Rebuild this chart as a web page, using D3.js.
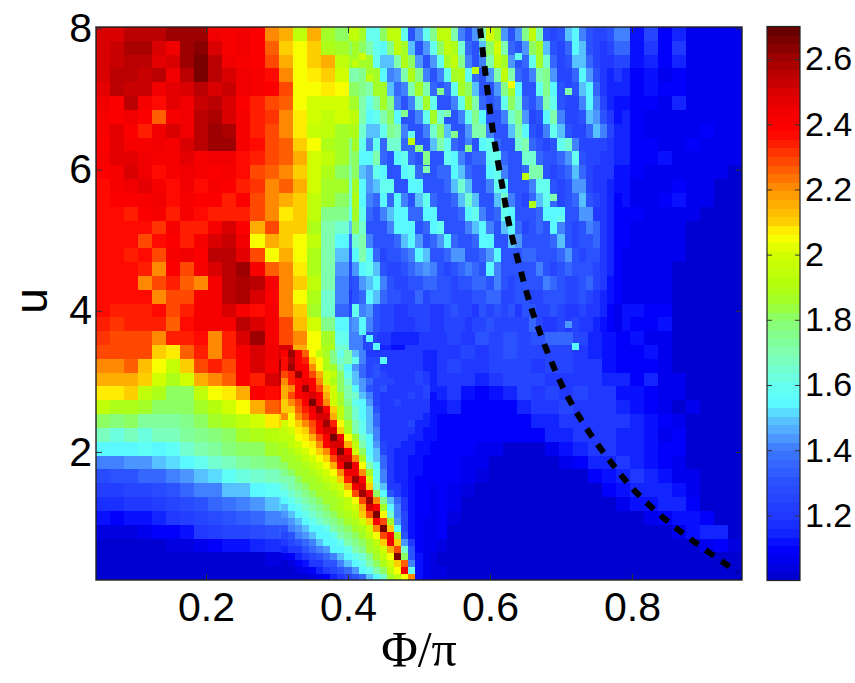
<!DOCTYPE html>
<html><head><meta charset="utf-8">
<script src="https://cdn.jsdelivr.net/npm/d3@7"></script>
<style>html,body{margin:0;padding:0;background:#fff}svg{display:block}</style>
</head><body><div id="chart"></div>
<script>
const phiValues=d3.range(46).map(i=>+(0.05+0.02*i).toFixed(2));
const xTicks=[0.2,0.4,0.6,0.8];
const yTicks=[2,4,6,8];
const barTicks=[1.2,1.4,1.6,1.8,2,2.2,2.4,2.6];
const colorValues=[1,1.05,1.1,1.15,1.2,1.3,1.4,1.45,1.5,1.55,1.6,1.7,1.8,1.85,1.9,2,2.06,2.1,2.2,2.3,2.38,2.45,2.5,2.6,2.7];
const colorStops=["#0000c8","#0000e6","#0000ff","#1428ff","#2038ff","#2a50ff","#3c78ff","#50a0ff","#58c8ff","#5affff","#66ffee","#80ffb0","#88ff70","#a0ff30","#b0ff10","#d0ff00","#ffff00","#ffd000","#ff9000","#ff4000","#ff0000","#f00000","#d80000","#a00000","#600000"];
// u, from the top row down
const uValues=d3.range(40).map(i=>+(7.92-0.1958*i).toFixed(2));
const cells=[
[2.5,2.5,2.55,2.55,2.55,2.62,2.62,2.62,2.45,2.42, 2.45,2.4,2.2,2.15,1.95,2.15,1.85,1.8,1.95,1.58, 1.8,1.95,1.5,1.55,1.95,1.65,1.35,1.55,1.9,1.3, 1.5,1.85,1.3,1.4,1.55,1.3,1.25,1.4,1.12,1.25, 1.1,1.15,1.07,1.07,1.07,1.07],
[2.5,2.52,2.58,2.58,2.5,2.45,2.6,2.64,2.5,2.42, 2.45,2.4,2.25,2.1,2.05,2.1,1.9,1.85,1.8,1.7, 1.6,1.9,1.55,1.4,1.6,1.9,1.5,1.35,2.0,1.5, 1.3,1.85,1.35,1.3,1.6,1.35,1.2,1.35,1.12,1.2, 1.1,1.2,1.07,1.07,1.07,1.07],
[2.5,2.52,2.56,2.55,2.48,2.5,2.62,2.65,2.55,2.45, 2.42,2.4,2.3,2.15,2.05,2.1,2.15,1.95,1.85,1.85, 1.55,1.65,1.9,1.45,1.5,1.85,1.6,1.3,1.95,1.6, 1.35,1.8,1.4,1.3,1.6,1.4,1.2,1.25,1.12,1.15, 1.1,1.15,1.07,1.07,1.07,1.07],
[2.5,2.55,2.55,2.52,2.55,2.45,2.55,2.65,2.55,2.5, 2.45,2.42,2.38,2.2,2.05,2.08,2.1,2.0,1.7,1.85, 1.5,1.4,1.85,1.5,1.3,1.85,1.65,1.3,1.55,1.95, 1.3,1.6,1.6,1.25,1.55,1.4,1.15,1.15,1.1,1.12, 1.07,1.1,1.07,1.07,1.07,1.07],
[2.48,2.55,2.52,2.52,2.45,2.48,2.5,2.55,2.5,2.52, 2.45,2.42,2.4,2.3,2.05,2.05,2.08,2.05,1.8,1.75, 1.85,1.35,1.6,1.8,1.35,1.6,1.85,1.35,1.35,1.85, 1.5,1.3,1.75,1.35,1.3,1.55,1.15,1.15,1.1,1.12, 1.1,1.1,1.07,1.07,1.07,1.07],
[2.45,2.4,2.55,2.42,2.38,2.48,2.45,2.52,2.55,2.5, 2.4,2.35,2.3,2.25,2.05,2.0,2.0,2.0,1.85,1.65, 1.8,1.6,1.35,1.85,1.5,1.35,1.8,1.45,1.3,1.75, 1.6,1.3,1.7,1.3,1.25,1.55,1.2,1.12,1.1,1.1, 1.07,1.15,1.07,1.07,1.07,1.07],
[2.42,2.4,2.45,2.4,2.25,2.42,2.45,2.55,2.58,2.5, 2.42,2.35,2.32,2.2,2.08,2.0,1.95,2.0,1.95,1.6, 1.75,1.7,1.3,1.5,1.85,1.3,1.55,1.7,1.3,1.6, 1.7,1.25,1.7,1.3,1.3,1.5,1.3,1.15,1.1,1.07, 1.07,1.07,1.07,1.07,1.07,1.07],
[2.42,2.48,2.4,2.35,2.45,2.5,2.45,2.55,2.6,2.58, 2.42,2.35,2.3,2.2,2.08,1.98,1.95,1.85,1.9,1.55, 1.5,1.75,1.5,1.3,1.8,1.45,1.4,1.75,1.3,1.4, 1.7,1.25,1.5,1.6,1.25,1.5,1.3,1.15,1.1,1.07, 1.07,1.07,1.07,1.1,1.07,1.07],
[2.4,2.48,2.42,2.42,2.45,2.42,2.5,2.55,2.6,2.6, 2.42,2.38,2.3,2.25,2.1,2.05,1.9,1.85,1.75,1.65, 1.45,1.6,1.6,1.3,1.6,1.65,1.3,1.65,1.6,1.3, 1.7,1.3,1.3,1.65,1.3,1.3,1.45,1.15,1.1,1.1, 1.07,1.07,1.1,1.07,1.07,1.07],
[2.42,2.48,2.48,2.45,2.42,2.42,2.48,2.42,2.45,2.45, 2.38,2.35,2.28,2.25,2.15,2.0,1.95,1.85,1.75,1.6, 1.4,1.4,1.7,1.35,1.4,1.7,1.3,1.4,1.65,1.25, 1.55,1.5,1.3,1.55,1.4,1.25,1.4,1.15,1.1,1.1, 1.12,1.07,1.07,1.07,1.07,1.07],
[2.4,2.42,2.5,2.45,2.38,2.42,2.45,2.42,2.4,2.42, 2.38,2.3,2.25,2.2,2.1,2.0,1.9,1.8,1.7,1.55, 1.4,1.3,1.6,1.5,1.3,1.6,1.45,1.3,1.65,1.3, 1.45,1.7,1.25,1.5,1.45,1.25,1.25,1.12,1.1,1.07, 1.07,1.07,1.07,1.07,1.07,1.02],
[2.38,2.42,2.45,2.48,2.42,2.38,2.45,2.38,2.42,2.4, 2.35,2.32,2.2,2.25,2.15,2.0,1.85,1.85,1.65,1.55, 1.3,1.3,1.4,1.6,1.3,1.4,1.65,1.3,1.45,1.55, 1.25,1.65,1.5,1.25,1.55,1.2,1.15,1.12,1.07,1.07, 1.07,1.1,1.07,1.07,1.02,1.02],
[2.38,2.4,2.4,2.42,2.45,2.38,2.42,2.4,2.4,2.35, 2.4,2.3,2.2,2.15,2.1,1.95,1.85,1.8,1.65,1.45, 1.3,1.25,1.3,1.6,1.4,1.3,1.55,1.3,1.3,1.55, 1.25,1.5,1.5,1.2,1.5,1.25,1.15,1.12,1.07,1.07, 1.1,1.12,1.07,1.07,1.02,1.02],
[2.38,2.38,2.35,2.4,2.42,2.35,2.42,2.38,2.35,2.35, 2.35,2.28,2.2,2.08,2.1,1.95,1.75,1.75,1.6,1.35, 1.25,1.25,1.25,1.4,1.55,1.3,1.3,1.55,1.3,1.45, 1.4,1.25,1.55,1.2,1.4,1.2,1.12,1.1,1.1,1.07, 1.07,1.07,1.07,1.02,1.02,1.02],
[2.38,2.38,2.38,2.38,2.32,2.42,2.35,2.35,2.42,2.5, 2.4,2.15,2.3,2.1,2.1,1.9,1.7,1.65,1.5,1.3, 1.2,1.25,1.25,1.3,1.55,1.4,1.25,1.4,1.5,1.3, 1.45,1.25,1.45,1.35,1.3,1.35,1.15,1.1,1.07,1.07, 1.07,1.07,1.02,1.02,1.02,1.02],
[2.38,2.38,2.38,2.3,2.38,2.4,2.35,2.42,2.5,2.52, 2.45,2.05,2.15,2.1,2.05,1.95,1.7,1.55,1.35,1.25, 1.2,1.2,1.25,1.25,1.3,1.55,1.25,1.3,1.55,1.3, 1.4,1.3,1.2,1.5,1.25,1.3,1.15,1.1,1.07,1.07, 1.07,1.07,1.02,1.02,1.02,1.02],
[2.38,2.38,2.35,2.38,2.3,2.42,2.45,2.4,2.55,2.55, 2.48,2.3,2.05,2.15,2.05,1.9,1.7,1.5,1.3,1.2, 1.2,1.2,1.2,1.25,1.25,1.3,1.5,1.25,1.35,1.5, 1.3,1.3,1.25,1.35,1.2,1.3,1.15,1.07,1.07,1.07, 1.07,1.07,1.02,1.02,1.02,1.02],
[2.38,2.36,2.36,2.35,2.22,2.4,2.28,2.42,2.5,2.55, 2.6,2.42,2.25,2.2,2.08,1.9,1.7,1.45,1.25,1.2, 1.2,1.2,1.2,1.25,1.2,1.25,1.45,1.3,1.25,1.4, 1.3,1.25,1.25,1.35,1.2,1.2,1.12,1.07,1.07,1.07, 1.07,1.02,1.02,1.02,1.02,1.02],
[2.38,2.36,2.36,2.2,2.3,2.35,2.25,2.22,2.42,2.55, 2.58,2.55,2.42,2.2,2.1,1.95,1.7,1.4,1.25,1.2, 1.15,1.2,1.2,1.2,1.2,1.2,1.3,1.3,1.25,1.3, 1.35,1.25,1.25,1.25,1.25,1.2,1.12,1.07,1.07,1.07, 1.07,1.02,1.02,1.02,1.02,1.02],
[2.36,2.36,2.36,2.38,2.2,2.28,2.3,2.42,2.42,2.55, 2.58,2.5,2.4,2.2,2.05,1.9,1.65,1.4,1.2,1.2, 1.2,1.2,1.2,1.2,1.2,1.2,1.25,1.3,1.3,1.25, 1.3,1.3,1.25,1.3,1.25,1.15,1.12,1.07,1.07,1.07, 1.07,1.02,1.02,1.02,1.02,1.02],
[2.36,2.35,2.34,2.35,2.38,2.28,2.35,2.42,2.42,2.5, 2.42,2.38,2.42,2.2,2.1,1.85,1.65,1.35,1.25,1.2, 1.15,1.2,1.2,1.2,1.2,1.2,1.2,1.25,1.3,1.3, 1.25,1.25,1.3,1.2,1.25,1.15,1.1,1.12,1.12,1.1, 1.1,1.02,1.02,1.02,1.02,1.02],
[2.34,2.32,2.33,2.35,2.35,2.25,2.38,2.42,2.42,2.42, 2.55,2.5,2.42,2.3,2.12,2.0,1.75,1.55,1.4,1.3, 1.2,1.15,1.15,1.2,1.25,1.2,1.2,1.25,1.3,1.3, 1.3,1.3,1.3,1.4,1.25,1.15,1.12,1.12,1.1,1.1, 1.12,1.02,1.02,1.02,1.02,1.02],
[2.32,2.3,2.3,2.3,2.2,2.35,2.35,2.38,2.2,2.35, 2.5,2.6,2.42,2.3,2.2,2.05,1.85,1.6,1.4,1.25, 1.2,1.15,1.15,1.2,1.2,1.25,1.2,1.3,1.25,1.3, 1.25,1.3,1.35,1.35,1.25,1.15,1.12,1.1,1.12,1.07, 1.07,1.02,1.02,1.02,1.02,1.02],
[2.28,2.28,2.28,2.3,2.1,2.08,2.25,2.35,2.2,2.35, 2.42,2.5,2.45,2.5,2.15,2.05,1.9,1.65,1.4,1.25, 1.15,1.12,1.2,1.2,1.2,1.2,1.25,1.2,1.25,1.3, 1.25,1.25,1.25,1.25,1.2,1.15,1.12,1.1,1.1,1.12, 1.07,1.02,1.02,1.02,1.02,1.02],
[2.22,2.22,2.25,2.12,2.05,1.98,2.1,2.3,2.35,2.3, 2.4,2.5,2.42,2.6,2.35,2.1,1.95,1.7,1.45,1.25, 1.15,1.12,1.15,1.15,1.2,1.25,1.2,1.2,1.25,1.25, 1.25,1.2,1.25,1.25,1.2,1.2,1.12,1.1,1.1,1.1, 1.07,1.02,1.02,1.02,1.02,1.02],
[2.15,2.15,2.15,2.1,2.0,1.9,2.0,2.15,2.2,2.25, 2.4,2.35,2.5,2.55,2.45,2.2,1.95,1.75,1.5,1.3, 1.2,1.15,1.15,1.1,1.2,1.2,1.2,1.15,1.2,1.25, 1.25,1.25,1.2,1.2,1.2,1.2,1.15,1.15,1.1,1.15, 1.07,1.07,1.02,1.02,1.02,1.02],
[2.08,2.08,2.1,1.95,1.88,1.82,1.82,1.95,2.05,2.08, 2.15,2.4,2.38,2.4,2.55,2.5,2.05,1.85,1.55,1.35, 1.2,1.15,1.12,1.12,1.15,1.2,1.12,1.1,1.12,1.15, 1.25,1.2,1.25,1.2,1.25,1.2,1.2,1.12,1.12,1.1, 1.07,1.07,1.02,1.02,1.02,1.02],
[1.95,1.88,1.9,1.85,1.8,1.8,1.8,1.85,1.92,2.0, 2.05,2.15,2.25,2.3,2.45,2.6,2.3,1.95,1.6,1.4, 1.2,1.15,1.12,1.12,1.12,1.15,1.1,1.1,1.1,1.1, 1.15,1.2,1.2,1.25,1.2,1.2,1.2,1.15,1.12,1.1, 1.07,1.02,1.07,1.02,1.02,1.02],
[1.82,1.78,1.8,1.72,1.72,1.72,1.75,1.8,1.85,1.9, 1.95,2.0,2.08,2.1,2.15,2.35,2.62,2.1,1.8,1.5, 1.3,1.2,1.12,1.12,1.1,1.1,1.1,1.1,1.1,1.1, 1.1,1.15,1.15,1.2,1.2,1.2,1.2,1.2,1.15,1.12, 1.1,1.07,1.02,1.02,1.02,1.02],
[1.68,1.62,1.68,1.62,1.68,1.68,1.72,1.75,1.78,1.82, 1.85,1.88,1.92,1.95,2.05,2.15,2.6,2.45,1.95,1.6, 1.35,1.2,1.15,1.12,1.1,1.1,1.1,1.1,1.1,1.1, 1.1,1.1,1.15,1.15,1.2,1.2,1.2,1.15,1.15,1.12, 1.07,1.1,1.02,1.02,1.02,1.02],
[1.55,1.55,1.55,1.58,1.55,1.58,1.65,1.7,1.72,1.78, 1.8,1.82,1.85,1.88,2.05,2.1,2.2,2.62,2.3,1.8, 1.45,1.25,1.15,1.12,1.1,1.1,1.1,1.07,1.07,1.02, 1.02,1.02,1.07,1.12,1.15,1.2,1.2,1.15,1.15,1.12, 1.1,1.1,1.02,1.02,1.02,1.02],
[1.4,1.4,1.45,1.45,1.5,1.52,1.55,1.6,1.65,1.68, 1.72,1.75,1.78,1.8,1.9,2.0,2.1,2.3,2.62,2.0, 1.6,1.3,1.2,1.12,1.1,1.1,1.07,1.07,1.02,1.02, 1.02,1.02,1.02,1.07,1.1,1.15,1.15,1.2,1.15,1.12, 1.1,1.07,1.02,1.02,1.02,1.02],
[1.28,1.3,1.3,1.35,1.35,1.42,1.45,1.5,1.52,1.58, 1.62,1.65,1.68,1.7,1.85,1.9,1.95,2.1,2.55,2.3, 1.75,1.4,1.2,1.12,1.1,1.1,1.07,1.05,1.02,1.02, 1.02,1.02,1.02,1.02,1.02,1.1,1.12,1.15,1.2,1.15, 1.12,1.07,1.07,1.02,1.02,1.02],
[1.22,1.22,1.25,1.25,1.28,1.3,1.35,1.4,1.42,1.48, 1.5,1.55,1.58,1.6,1.8,1.85,1.85,2.0,2.45,2.5, 1.9,1.5,1.25,1.12,1.1,1.07,1.05,1.02,1.02,1.02, 1.02,1.02,1.02,1.02,1.02,1.02,1.1,1.12,1.15,1.15, 1.15,1.12,1.07,1.02,1.02,1.02],
[1.18,1.18,1.2,1.2,1.22,1.25,1.28,1.3,1.35,1.38, 1.42,1.45,1.5,1.52,1.7,1.8,1.85,1.9,2.1,2.6, 2.2,1.6,1.3,1.12,1.1,1.07,1.02,1.02,1.02,1.02, 1.02,1.02,1.02,1.02,1.02,1.02,1.02,1.07,1.12,1.12, 1.15,1.15,1.1,1.02,1.02,1.02],
[1.12,1.1,1.12,1.12,1.15,1.2,1.22,1.25,1.28,1.3, 1.32,1.35,1.4,1.42,1.6,1.65,1.75,1.85,1.95,2.35, 2.6,1.7,1.35,1.15,1.1,1.05,1.02,1.02,1.02,1.02, 1.02,1.02,1.02,1.02,1.02,1.02,1.02,1.02,1.02,1.07, 1.1,1.12,1.12,1.1,1.02,1.02],
[1.05,1.05,1.05,1.07,1.08,1.1,1.12,1.2,1.22,1.25, 1.25,1.28,1.3,1.32,1.5,1.55,1.6,1.7,1.85,2.0, 2.55,2.05,1.5,1.15,1.08,1.02,1.02,1.02,1.02,1.02, 1.02,1.02,1.02,1.02,1.02,1.02,1.02,1.02,1.02,1.02, 1.02,1.07,1.12,1.15,1.15,1.02],
[1.02,1.02,1.02,1.02,1.02,1.05,1.05,1.07,1.1,1.12, 1.12,1.15,1.18,1.18,1.35,1.4,1.45,1.55,1.7,1.85, 2.1,2.6,1.7,1.15,1.05,1.02,1.02,1.02,1.02,1.02, 1.02,1.02,1.02,1.02,1.02,1.02,1.02,1.02,1.02,1.02, 1.02,1.02,1.02,1.07,1.1,1.05],
[1.02,1.02,1.02,1.02,1.02,1.02,1.02,1.02,1.02,1.02, 1.02,1.02,1.05,1.05,1.15,1.2,1.25,1.35,1.45,1.7, 1.95,2.6,1.6,1.12,1.02,1.02,1.02,1.02,1.02,1.02, 1.02,1.02,1.02,1.02,1.02,1.02,1.02,1.02,1.02,1.02, 1.02,1.02,1.02,1.02,1.02,1.02],
[1.02,1.02,1.02,1.02,1.02,1.02,1.02,1.02,1.02,1.02, 1.02,1.02,1.02,1.02,1.02,1.02,1.02,1.02,1.05,1.15, 1.4,1.8,2.2,1.12,1.05,1.02,1.02,1.02,1.02,1.02, 1.02,1.02,1.02,1.02,1.02,1.02,1.02,1.02,1.02,1.02, 1.02,1.02,1.02,1.02,1.02,1.02]
];
// streak region at finer phi (0.41, 0.42, ... 0.78) for the upper 22 rows
const streakPhi=d3.range(38).map(i=>+(0.41+0.01*i).toFixed(2));
const streakCells=[
[1.95,1.85,1.6,1.6,1.8,1.95,1.95,1.6,1.3,1.45, 1.6,1.75,1.95,1.95,1.7,1.4,1.3,1.45,1.7,2.0, 1.85,1.45,1.3,1.45,1.75,1.95,1.7,1.3,1.25,1.3, 1.5,1.55,1.4,1.3,1.25,1.25,1.3,1.4],
[1.85,1.8,1.7,1.6,1.55,1.75,1.95,1.85,1.5,1.3, 1.45,1.6,1.8,1.95,1.9,1.65,1.35,1.3,1.5,1.8, 2.0,1.7,1.35,1.3,1.45,1.8,1.85,1.5,1.3,1.25, 1.35,1.55,1.5,1.3,1.25,1.2,1.25,1.35],
[1.85,1.85,1.85,1.6,1.5,1.5,1.7,1.9,1.8,1.45, 1.3,1.45,1.6,1.85,1.95,1.75,1.4,1.3,1.4,1.7, 1.95,1.85,1.45,1.3,1.35,1.6,1.85,1.65,1.35,1.25, 1.3,1.5,1.5,1.35,1.25,1.2,1.2,1.25],
[1.7,1.75,1.85,1.85,1.55,1.4,1.45,1.7,1.9,1.75, 1.4,1.3,1.4,1.6,1.85,1.9,1.6,1.35,1.3,1.45, 1.7,1.95,1.7,1.35,1.3,1.4,1.7,1.75,1.45,1.25, 1.25,1.35,1.55,1.45,1.3,1.2,1.15,1.2],
[1.8,1.75,1.7,1.85,1.85,1.5,1.35,1.4,1.7,1.85, 1.7,1.35,1.3,1.35,1.6,1.85,1.8,1.5,1.3,1.3, 1.45,1.75,1.85,1.55,1.3,1.3,1.6,1.75,1.55,1.3, 1.25,1.3,1.5,1.55,1.35,1.2,1.15,1.15],
[1.85,1.7,1.6,1.7,1.85,1.75,1.4,1.3,1.4,1.65, 1.85,1.6,1.3,1.3,1.4,1.6,1.85,1.7,1.35,1.3, 1.35,1.6,1.8,1.65,1.35,1.3,1.4,1.7,1.6,1.3, 1.25,1.25,1.4,1.55,1.4,1.25,1.15,1.12],
[1.95,1.7,1.55,1.6,1.7,1.8,1.55,1.3,1.3,1.4, 1.6,1.85,1.65,1.3,1.3,1.4,1.6,1.75,1.55,1.3, 1.3,1.4,1.65,1.75,1.45,1.25,1.3,1.55,1.7,1.4, 1.25,1.25,1.3,1.5,1.45,1.3,1.2,1.12],
[1.9,1.65,1.5,1.5,1.6,1.75,1.7,1.4,1.3,1.3, 1.4,1.65,1.8,1.5,1.3,1.3,1.45,1.7,1.7,1.4, 1.3,1.3,1.5,1.7,1.55,1.3,1.25,1.4,1.6,1.5, 1.3,1.25,1.25,1.35,1.5,1.4,1.25,1.15],
[1.85,1.6,1.4,1.6,1.35,1.65,1.65,1.35,1.35,1.3, 1.3,1.5,1.7,1.6,1.35,1.3,1.4,1.3,1.55,1.6, 1.35,1.3,1.3,1.65,1.7,1.35,1.3,1.25,1.3,1.6, 1.65,1.4,1.25,1.25,1.25,1.25,1.2,1.15],
[1.8,1.55,1.55,1.7,1.35,1.3,1.55,1.6,1.35,1.3, 1.75,1.3,1.3,1.6,1.55,1.4,1.3,1.35,1.35,1.6, 1.6,1.35,1.3,1.3,1.65,1.65,1.35,1.3,1.3,1.35, 1.45,1.6,1.3,1.25,1.25,1.2,1.2,1.15],
[1.8,1.5,1.45,1.6,1.55,1.3,1.3,1.55,1.6,1.35, 1.3,1.3,1.35,1.35,1.55,1.5,1.35,1.3,1.3,1.55, 1.6,1.4,1.3,1.3,1.35,1.7,1.7,1.3,1.25,1.3, 1.35,1.5,1.35,1.25,1.2,1.2,1.2,1.12],
[1.85,1.55,1.45,1.5,1.6,1.6,1.3,1.3,1.55,1.55, 1.3,1.3,1.3,1.35,1.5,1.65,1.5,1.3,1.3,1.4, 1.6,1.55,1.3,1.3,1.3,1.4,1.6,1.6,1.3,1.25, 1.3,1.45,1.45,1.25,1.2,1.2,1.15,1.12],
[1.9,1.55,1.4,1.35,1.55,1.35,1.55,1.4,1.3,1.5, 1.6,1.35,1.3,1.3,1.35,1.5,1.65,1.5,1.3,1.3, 1.5,1.65,1.4,1.3,1.25,1.35,1.5,1.6,1.35,1.25, 1.3,1.35,1.5,1.3,1.25,1.2,1.15,1.1],
[1.85,1.6,1.35,1.3,1.4,1.5,1.55,1.55,1.35,1.35, 1.55,1.55,1.3,1.3,1.3,1.35,1.55,1.6,1.4,1.3, 1.35,1.6,1.55,1.3,1.3,1.3,1.35,1.55,1.55,1.55, 1.3,1.3,1.45,1.45,1.2,1.2,1.15,1.1],
[1.8,1.65,1.3,1.3,1.3,1.4,1.55,1.55,1.55,1.3, 1.35,1.55,1.6,1.3,1.3,1.3,1.4,1.5,1.55,1.4, 1.3,1.5,1.55,1.35,1.25,1.3,1.35,1.3,1.55,1.4, 1.3,1.25,1.3,1.4,1.35,1.2,1.15,1.1],
[1.65,1.7,1.4,1.3,1.3,1.3,1.35,1.5,1.55,1.45, 1.3,1.35,1.45,1.55,1.35,1.3,1.3,1.35,1.55,1.55, 1.3,1.3,1.5,1.45,1.3,1.3,1.3,1.3,1.35,1.5, 1.3,1.25,1.3,1.3,1.35,1.2,1.15,1.1],
[1.55,1.7,1.55,1.35,1.25,1.3,1.3,1.35,1.4,1.55, 1.5,1.3,1.3,1.35,1.45,1.45,1.3,1.3,1.35,1.45, 1.55,1.3,1.3,1.3,1.35,1.35,1.3,1.3,1.3,1.35, 1.45,1.3,1.25,1.3,1.3,1.2,1.15,1.1],
[1.45,1.55,1.6,1.5,1.3,1.25,1.25,1.3,1.35,1.4, 1.45,1.4,1.3,1.25,1.3,1.35,1.4,1.35,1.3,1.55, 1.4,1.3,1.3,1.3,1.3,1.3,1.4,1.3,1.25,1.3, 1.35,1.3,1.3,1.3,1.25,1.2,1.15,1.1],
[1.3,1.45,1.5,1.55,1.4,1.3,1.25,1.25,1.3,1.3, 1.35,1.35,1.3,1.3,1.25,1.3,1.3,1.35,1.35,1.3, 1.4,1.3,1.25,1.3,1.3,1.3,1.3,1.4,1.35,1.3, 1.25,1.25,1.3,1.35,1.25,1.2,1.12,1.1],
[1.3,1.35,1.55,1.5,1.35,1.3,1.3,1.25,1.25,1.35, 1.25,1.3,1.3,1.3,1.25,1.25,1.25,1.3,1.3,1.35, 1.35,1.25,1.25,1.3,1.3,1.25,1.25,1.3,1.3,1.3, 1.25,1.25,1.3,1.25,1.2,1.15,1.12,1.1],
[1.6,1.4,1.45,1.3,1.25,1.25,1.2,1.2,1.25,1.25, 1.25,1.2,1.2,1.25,1.3,1.25,1.25,1.2,1.3,1.25, 1.3,1.25,1.3,1.2,1.3,1.3,1.25,1.25,1.3,1.25, 1.2,1.2,1.25,1.2,1.2,1.15,1.1,1.07],
[1.45,1.55,1.4,1.3,1.25,1.25,1.2,1.2,1.2,1.25, 1.25,1.2,1.2,1.25,1.25,1.25,1.2,1.25,1.25,1.3, 1.25,1.25,1.25,1.25,1.25,1.35,1.25,1.2,1.2,1.25, 1.2,1.25,1.2,1.2,1.15,1.12,1.1,1.07]
];
// narrow ridge region at finer phi (0.31, 0.32, ... 0.52) and finer u
const ridgePhi=d3.range(22).map(i=>+(0.31+0.01*i).toFixed(2));
const ridgeU=d3.range(33).map(i=>+(3.39-0.099*i).toFixed(3));
const ridgeCells=[
[2.4,2.6,2.4,2.25,2.05,1.95,1.85,1.75,1.6,1.7,1.5,1.4, 1.2,1.2,1.2,1.2,1.2,1.2,1.2,1.2,1.15,1.15],
[2.38,2.55,2.4,2.35,2.1,2.05,1.9,1.75,1.65,1.7,1.6,1.4, 1.25,1.25,1.2,1.2,1.2,1.2,1.2,1.2,1.15,1.15],
[2.38,2.6,2.4,2.4,2.2,2.05,1.9,1.85,1.7,1.55,1.45,1.35, 1.25,1.3,1.2,1.2,1.2,1.2,1.2,1.2,1.15,1.15],
[2.3,2.35,2.62,2.4,2.3,2.15,2.0,1.95,1.8,1.6,1.5,1.35, 1.25,1.3,1.25,1.2,1.2,1.2,1.2,1.25,1.2,1.15],
[2.2,2.35,2.4,2.45,2.4,2.2,2.0,1.9,1.8,1.65,1.5,1.45, 1.35,1.25,1.25,1.25,1.2,1.2,1.2,1.25,1.2,1.15],
[2.15,2.2,2.4,2.62,2.4,2.3,2.1,2.0,1.8,1.7,1.55,1.45, 1.3,1.25,1.3,1.2,1.2,1.2,1.2,1.2,1.25,1.15],
[2.15,2.3,2.4,2.45,2.5,2.4,2.15,2.0,1.85,1.7,1.65,1.5, 1.4,1.25,1.2,1.2,1.2,1.2,1.25,1.2,1.25,1.12],
[2.1,2.2,2.3,2.4,2.65,2.4,2.2,2.0,1.85,1.75,1.6,1.55, 1.45,1.25,1.2,1.2,1.25,1.2,1.2,1.2,1.2,1.12],
[2.1,2.1,2.25,2.35,2.45,2.62,2.4,2.1,1.95,1.8,1.65,1.55, 1.5,1.3,1.2,1.2,1.2,1.2,1.2,1.2,1.2,1.12],
[2.2,2.05,2.2,2.3,2.4,2.5,2.5,2.15,1.95,1.8,1.65,1.55, 1.5,1.35,1.2,1.2,1.2,1.2,1.2,1.2,1.15,1.12],
[2.0,2.05,2.1,2.2,2.3,2.42,2.62,2.35,2.05,1.85,1.7,1.6, 1.5,1.35,1.2,1.2,1.2,1.2,1.25,1.15,1.15,1.12],
[1.95,2.0,2.08,2.1,2.25,2.4,2.5,2.5,2.1,1.9,1.7,1.6, 1.5,1.4,1.2,1.2,1.2,1.2,1.2,1.15,1.12,1.12],
[1.95,1.95,2.05,2.08,2.15,2.3,2.4,2.65,2.45,2.05,1.85,1.65, 1.55,1.4,1.2,1.2,1.2,1.2,1.15,1.15,1.12,1.12],
[1.9,1.95,2.0,2.05,2.08,2.2,2.4,2.5,2.5,2.15,1.95,1.7, 1.55,1.45,1.25,1.2,1.2,1.15,1.15,1.12,1.12,1.1],
[1.85,1.9,1.95,2.0,2.05,2.1,2.2,2.4,2.65,2.4,2.0,1.8, 1.55,1.5,1.25,1.2,1.15,1.15,1.15,1.12,1.12,1.1],
[1.85,1.85,1.9,1.95,2.0,2.05,2.1,2.3,2.5,2.5,2.2,1.9, 1.6,1.5,1.35,1.2,1.15,1.15,1.12,1.12,1.1,1.1],
[1.8,1.85,1.85,1.9,1.95,2.0,2.05,2.15,2.4,2.65,2.45,2.05, 1.7,1.55,1.35,1.2,1.15,1.15,1.12,1.12,1.1,1.1],
[1.75,1.8,1.85,1.85,1.9,1.95,2.0,2.05,2.2,2.45,2.45,2.2, 1.85,1.6,1.4,1.2,1.15,1.15,1.12,1.12,1.1,1.1],
[1.7,1.7,1.8,1.85,1.85,1.9,1.95,2.0,2.1,2.35,2.62,2.4, 2.0,1.6,1.4,1.2,1.15,1.15,1.12,1.1,1.1,1.1],
[1.65,1.7,1.75,1.8,1.85,1.85,1.9,1.95,2.0,2.15,2.45,2.5, 2.1,1.65,1.5,1.2,1.2,1.15,1.12,1.1,1.1,1.07],
[1.6,1.65,1.7,1.75,1.8,1.85,1.85,1.9,1.95,2.05,2.3,2.6, 2.4,1.8,1.55,1.3,1.2,1.15,1.12,1.1,1.1,1.07],
[1.55,1.6,1.65,1.7,1.75,1.8,1.85,1.85,1.9,1.95,2.05,2.3, 2.6,2.2,1.75,1.5,1.35,1.2,1.12,1.1,1.1,1.07],
[1.5,1.55,1.6,1.65,1.7,1.75,1.8,1.85,1.9,1.95,2.0,2.15, 2.5,2.4,1.85,1.55,1.4,1.2,1.12,1.1,1.1,1.07],
[1.45,1.5,1.55,1.6,1.65,1.7,1.75,1.8,1.85,1.9,1.95,2.1, 2.3,2.65,2.05,1.65,1.4,1.25,1.12,1.1,1.1,1.07],
[1.4,1.45,1.5,1.55,1.6,1.65,1.7,1.75,1.8,1.85,1.9,2.0, 2.1,2.4,2.3,1.85,1.45,1.25,1.12,1.1,1.07,1.07],
[1.3,1.4,1.45,1.5,1.55,1.55,1.6,1.7,1.75,1.8,1.85,1.9, 2.0,2.2,2.65,2.1,1.55,1.25,1.12,1.1,1.07,1.07],
[1.25,1.3,1.4,1.45,1.5,1.55,1.55,1.6,1.7,1.75,1.8,1.85, 1.95,2.05,2.3,2.4,1.85,1.3,1.12,1.1,1.07,1.07],
[1.2,1.25,1.3,1.35,1.4,1.5,1.55,1.55,1.6,1.7,1.75,1.8, 1.85,1.95,2.1,2.45,2.1,1.45,1.2,1.1,1.07,1.07],
[1.15,1.2,1.2,1.3,1.35,1.4,1.45,1.55,1.55,1.6,1.7,1.75, 1.85,1.9,2.0,2.15,2.3,1.65,1.3,1.1,1.07,1.07],
[1.07,1.1,1.15,1.2,1.25,1.3,1.35,1.4,1.5,1.55,1.6,1.65, 1.75,1.85,1.95,2.05,2.65,1.8,1.3,1.12,1.07,1.05],
[1.02,1.05,1.1,1.12,1.2,1.2,1.3,1.3,1.4,1.5,1.55,1.6, 1.7,1.8,1.9,2.0,2.1,2.25,1.4,1.12,1.07,1.05],
[1.02,1.02,1.05,1.07,1.1,1.15,1.2,1.25,1.3,1.35,1.45,1.55, 1.6,1.7,1.8,1.95,2.05,2.45,1.6,1.12,1.07,1.05],
[1.02,1.02,1.02,1.02,1.05,1.07,1.1,1.15,1.2,1.25,1.3,1.35, 1.5,1.55,1.65,1.85,1.95,2.05,2.2,1.12,1.07,1.05]
];
// isolated bright cells
const speckPhi=[0.44,0.45,0.42,0.42,0.43,0.72,0.71,0.58,0.53,0.54,0.55,0.57,0.64,0.63,0.71,0.65,0.66,0.69,0.70,0.51,0.50,0.49,0.49,0.48,0.42,0.41,0.43];
const speckU=[3.5,3.3,3.8,3.7,3.6,3.5,3.8,7.4,7.1,6.8,6.5,6.3,7.6,7.2,7.1,5.9,5.5,5.6,5.3,6.0,6.3,6.4,6.5,6.8,7.6,7.5,7.3];
const speckValue=[1.55,1.55,1.55,1.55,1.55,1.55,1.45,1.95,1.75,1.7,1.75,1.75,1.6,2.05,1.7,1.95,1.9,1.7,1.6,1.7,1.75,1.95,1.6,1.75,2.0,1.95,1.95];
// dashed curve
const curvePhi=[0.586,0.604,0.618,0.628,0.656,0.665,0.684,0.707,0.735,0.767,0.802,0.843,0.886,0.931,0.949];
const curveU=[8.0,6.55,5.73,5.18,4.11,3.84,3.34,2.83,2.35,1.90,1.47,1.08,0.74,0.42,0.30];

const W=855,H=683,L=96,R=742,T=27,B=580,CL=767,CR=800;
const svg=d3.select("#chart").append("svg").attr("width",W).attr("height",H).attr("viewBox",`0 0 ${W} ${H}`);
svg.append("rect").attr("width",W).attr("height",H).attr("fill","#fff");

const x=d3.scaleLinear().domain([0.045,0.955]).range([L,R]);
const y=d3.scaleLinear().domain([0.186,8.02]).range([B,T]);
const xBand=d3.scaleBand().domain(phiValues).range([L,R]);
const yBand=d3.scaleBand().domain(uValues).range([T,B]);
const piece=d3.scaleLinear().domain(colorValues).range(colorStops).interpolate(d3.interpolateRgb);
const levels=d3.range(64).map(i=>piece(1+1.7*(i+0.5)/64));
const color=d3.scaleQuantize().domain([1,2.7]).range(levels);
const barY=d3.scaleLinear().domain([1,2.7]).range([580.5,26.5]);

svg.append("clipPath").attr("id","plot").append("rect").attr("x",L).attr("y",T).attr("width",R-L).attr("height",B-T);
const map=svg.append("g").attr("shape-rendering","crispEdges").attr("clip-path","url(#plot)");
const flat=cells.flatMap((row,i)=>row.map((v,j)=>({phi:phiValues[j],u:uValues[i],v})));
map.append("g").selectAll("rect").data(flat).join("rect")
  .attr("x",d=>xBand(d.phi)).attr("y",d=>yBand(d.u))
  .attr("width",xBand.bandwidth()+0.5).attr("height",yBand.bandwidth()+0.5)
  .attr("fill",d=>color(d.v));
const fineW=x(0.01)-x(0), fineH=y(0)-y(0.099);
const streaks=streakCells.flatMap((row,i)=>row.map((v,j)=>({phi:streakPhi[j],u:uValues[i],v})));
map.append("g").selectAll("rect").data(streaks).join("rect")
  .attr("x",d=>x(d.phi-0.005)).attr("y",d=>yBand(d.u))
  .attr("width",fineW+0.5).attr("height",yBand.bandwidth()+0.5)
  .attr("fill",d=>color(d.v));
const ridge=ridgeCells.flatMap((row,i)=>row.map((v,j)=>({phi:ridgePhi[j],u:ridgeU[i],v})));
map.append("g").selectAll("rect").data(ridge).join("rect")
  .attr("x",d=>x(d.phi-0.005)).attr("y",d=>y(d.u+0.0495))
  .attr("width",fineW+0.5).attr("height",fineH+0.5)
  .attr("fill",d=>color(d.v));
const specks=speckPhi.map((p,i)=>({p,u:speckU[i],v:speckValue[i]}));
map.append("g").selectAll("rect").data(specks).join("rect")
  .attr("x",d=>x(d.p-0.005)).attr("y",d=>y(d.u+0.05))
  .attr("width",fineW).attr("height",fineH)
  .attr("fill",d=>color(d.v));

const curve=d3.line().x(d=>x(d[0])).y(d=>y(d[1])).curve(d3.curveCatmullRom);
svg.append("path").datum(curvePhi.map((p,i)=>[p,curveU[i]])).attr("d",curve)
  .attr("fill","none").attr("stroke","#000").attr("stroke-width",6).attr("stroke-dasharray","10 9");

const FS=41, tickCol="#333";
function style(g,size,fam){
  g.selectAll("path.domain").remove();
  g.selectAll("line").attr("stroke",tickCol).attr("stroke-width",1);
  g.selectAll("text").attr("fill","#000").attr("font-family",fam||"'Liberation Sans',Arial,sans-serif").attr("font-size",size);
}
const fmt=d=>String(d);
style(svg.append("g").attr("transform",`translate(0,${B})`).call(d3.axisBottom(x).tickValues(xTicks).tickFormat(fmt).tickSize(-6).tickPadding(12)),FS);
style(svg.append("g").attr("transform",`translate(0,${T})`).call(d3.axisTop(x).tickValues(xTicks).tickFormat("").tickSize(-6)),FS);
style(svg.append("g").attr("transform",`translate(${L},0)`).call(d3.axisLeft(y).tickValues(yTicks).tickFormat(fmt).tickSize(-6).tickPadding(4)),FS);
style(svg.append("g").attr("transform",`translate(${R},0)`).call(d3.axisRight(y).tickValues(yTicks).tickFormat("").tickSize(-6)),FS);
svg.append("rect").attr("x",L).attr("y",T).attr("width",R-L).attr("height",B-T).attr("fill","none").attr("stroke","#222").attr("stroke-width",1.4);

// colour bar
const bar=svg.append("g").attr("shape-rendering","crispEdges");
bar.selectAll("rect").data(levels).join("rect")
  .attr("x",CL).attr("width",CR-CL)
  .attr("y",(d,i)=>barY(1+1.7*(i+1)/64)).attr("height",barY(0)-barY(1.7/64)+0.5)
  .attr("fill",d=>d);
style(svg.append("g").attr("transform",`translate(${CR},0)`).call(d3.axisRight(barY).tickValues(barTicks).tickFormat(fmt).tickSize(-5).tickPadding(5)),34);
style(svg.append("g").attr("transform",`translate(${CL},0)`).call(d3.axisLeft(barY).tickValues(barTicks).tickFormat("").tickSize(-5)),34);
svg.append("rect").attr("x",CL).attr("y",26.5).attr("width",CR-CL).attr("height",554).attr("fill","none").attr("stroke","#222").attr("stroke-width",1.2);

svg.append("text").attr("x",419).attr("y",666).attr("text-anchor","middle").attr("font-family","'Liberation Serif','Times New Roman',serif").attr("font-size",50).attr("fill","#000").text("Φ/π");
svg.append("text").attr("transform","translate(47,301) rotate(-90)").attr("text-anchor","middle").attr("font-family","'Liberation Sans',Arial,sans-serif").attr("font-size",46).attr("fill","#000").text("u");
</script></body></html>
